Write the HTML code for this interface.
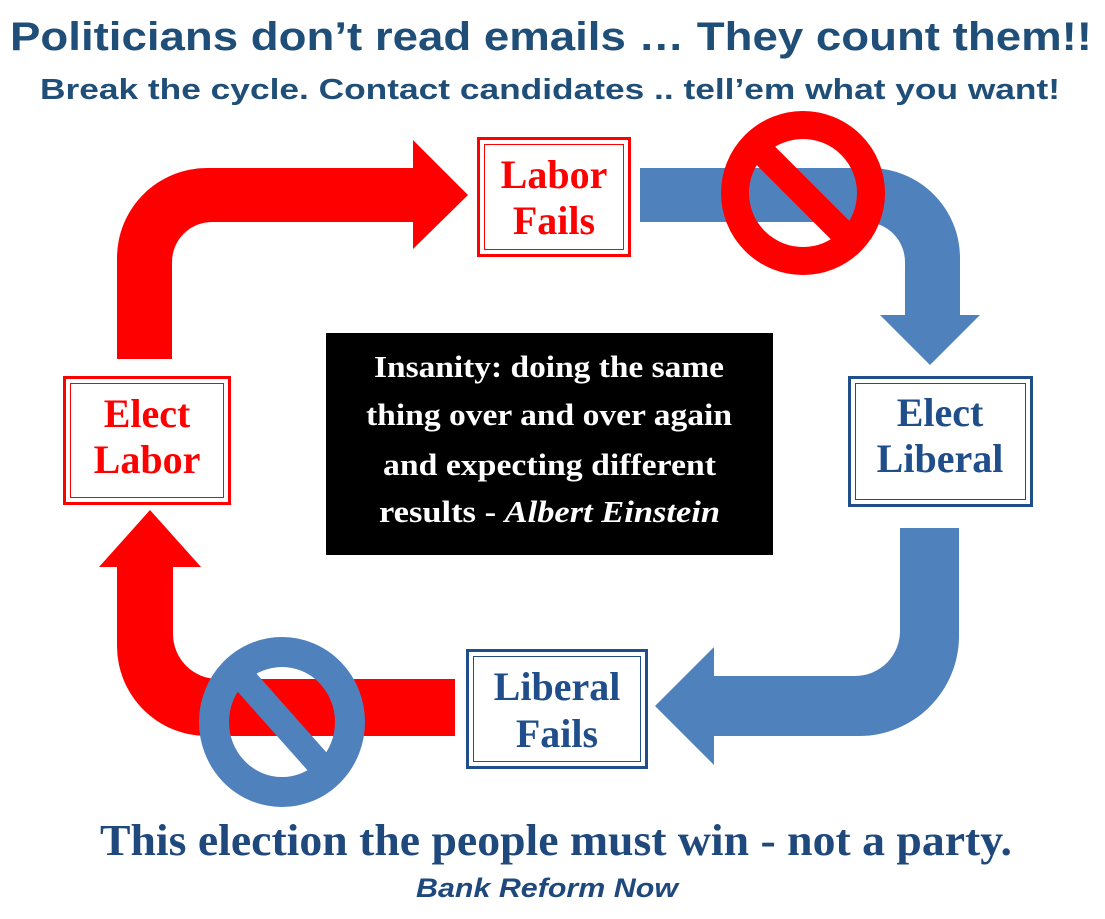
<!DOCTYPE html>
<html><head><meta charset="utf-8"><style>
html,body{margin:0;padding:0;background:#fff;}
body{width:1105px;height:914px;overflow:hidden;}
</style></head><body>
<svg width="1105" height="914" viewBox="0 0 1105 914" xmlns="http://www.w3.org/2000/svg">
<rect width="1105" height="914" fill="#fff"/>
<text x="10" y="50" textLength="1082" lengthAdjust="spacingAndGlyphs" font-family="Liberation Sans, sans-serif" font-weight="bold" font-size="40" fill="#1f4e79">Politicians don’t read emails … They count them!!</text>
<text x="40" y="99" textLength="1020" lengthAdjust="spacingAndGlyphs" font-family="Liberation Sans, sans-serif" font-weight="bold" font-size="29" fill="#1f4e79">Break the cycle. Contact candidates .. tell’em what you want!</text>

<path d="M117,359 L117,258 A90,90 0 0 1 207,168 L413,168 L413,140 L468,195 L413,249 L413,222 L212,222 A40,40 0 0 0 172,262 L172,359 Z" fill="#ff0000"/>
<path d="M640,168 L870,168 A90,90 0 0 1 960,258 L960,315 L980,315 L930,365 L880,315 L905,315 L905,262 A40,40 0 0 0 865,222 L640,222 Z" fill="#4f81bd"/>
<path d="M959,528 L959,636 A100,100 0 0 1 859,736 L714,736 L714,765 L655,706 L714,647 L714,676 L855,676 A45,45 0 0 0 900,631 L900,528 Z" fill="#4f81bd"/>
<path d="M455,679 L218,679 A45,45 0 0 1 173,634 L173,567 L201,567 L150,510 L99,567 L117,567 L117,646 A90,90 0 0 0 207,736 L455,736 Z" fill="#ff0000"/>

<circle cx="803" cy="193" r="68" fill="none" stroke="#ff0000" stroke-width="28"/>
<line x1="755" y1="145" x2="851" y2="241" stroke="#ff0000" stroke-width="26"/>
<ellipse cx="282" cy="722" rx="68" ry="70" fill="none" stroke="#4f81bd" stroke-width="30"/>
<line x1="234" y1="668" x2="330" y2="776" stroke="#4f81bd" stroke-width="26"/>

<g fill="none" stroke="#ff0000">
<rect x="478.5" y="138.5" width="151" height="117" stroke-width="3"/>
<rect x="484.5" y="144.5" width="139" height="105" stroke-width="1"/>
<rect x="64.5" y="377.5" width="165" height="126" stroke-width="3"/>
<rect x="70.5" y="383.5" width="153" height="114" stroke-width="1"/>
</g>
<g fill="none" stroke="#1f4e8a">
<rect x="849.5" y="377.5" width="182" height="128" stroke-width="3"/>
<rect x="855.5" y="383.5" width="170" height="116" stroke-width="1"/>
<rect x="467.5" y="650.5" width="179" height="117" stroke-width="3"/>
<rect x="473.5" y="656.5" width="167" height="105" stroke-width="1"/>
</g>
<g font-family="Liberation Serif, serif" font-weight="bold" font-size="40" text-anchor="middle">
<text x="554" y="188" fill="#ff0000">Labor</text>
<text x="554" y="234" fill="#ff0000">Fails</text>
<text x="147" y="427" fill="#ff0000">Elect</text>
<text x="147" y="473" fill="#ff0000">Labor</text>
<text x="940" y="426" fill="#1f4e8a">Elect</text>
<text x="940" y="472" fill="#1f4e8a">Liberal</text>
<text x="557" y="700" fill="#1f4e8a">Liberal</text>
<text x="557" y="747" fill="#1f4e8a">Fails</text>
</g>

<rect x="326" y="333" width="447" height="222" fill="#000"/>
<g font-family="Liberation Serif, serif" font-weight="bold" font-size="31" fill="#fff" lengthAdjust="spacingAndGlyphs">
<text x="374" y="377" textLength="350" lengthAdjust="spacingAndGlyphs">Insanity: doing the same</text>
<text x="366" y="425" textLength="366" lengthAdjust="spacingAndGlyphs">thing over and over again</text>
<text x="383" y="475" textLength="333" lengthAdjust="spacingAndGlyphs">and expecting different</text>
<text x="379" y="522" textLength="341" lengthAdjust="spacingAndGlyphs">results  - <tspan font-style="italic">Albert Einstein</tspan></text>
</g>

<text x="100" y="855" textLength="912" lengthAdjust="spacingAndGlyphs" font-family="Liberation Serif, serif" font-weight="bold" font-size="44" fill="#1f497d">This election the people must win - not a party.</text>
<text x="416" y="897" textLength="262" lengthAdjust="spacingAndGlyphs" font-family="Liberation Sans, sans-serif" font-weight="bold" font-style="italic" font-size="27" fill="#1f497d">Bank Reform Now</text>
</svg>
</body></html>
